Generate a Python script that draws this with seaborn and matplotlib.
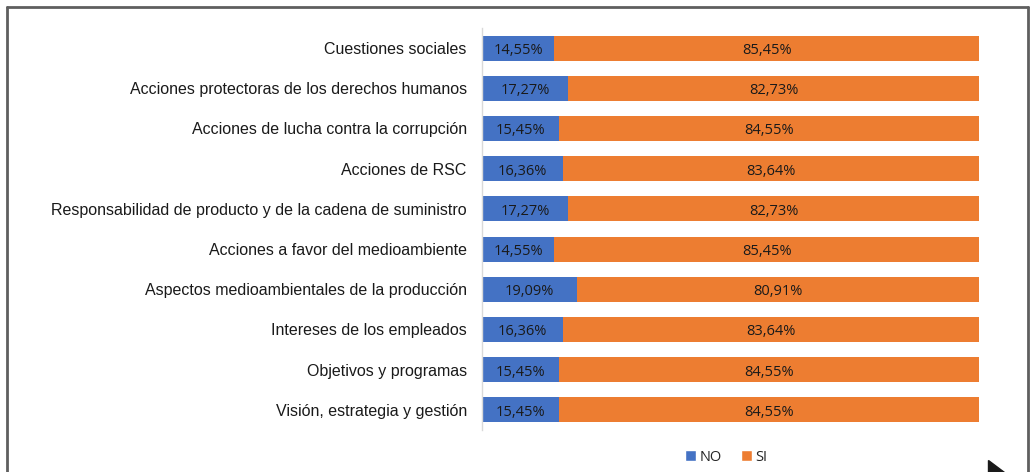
import numpy as np
import pandas as pd
import matplotlib.pyplot as plt
from matplotlib.patches import Patch, Polygon
from matplotlib.lines import Line2D
import seaborn as sns

# Chart values (percent), top to bottom
categories = [
    "Cuestiones sociales",
    "Acciones protectoras de los derechos humanos",
    "Acciones de lucha contra la corrupción",
    "Acciones de RSC",
    "Responsabilidad de producto y de la cadena de suministro",
    "Acciones a favor del medioambiente",
    "Aspectos medioambientales de la producción",
    "Intereses de los empleados",
    "Objetivos y programas",
    "Visión, estrategia y gestión",
]
no_values = [14.55, 17.27, 15.45, 16.36, 17.27, 14.55, 19.09, 16.36, 15.45, 15.45]
si_values = [85.45, 82.73, 84.55, 83.64, 82.73, 85.45, 80.91, 83.64, 84.55, 84.55]
series_names = ["NO", "SI"]

BLUE = "#4472C4"
ORANGE = "#ED7D31"

df = pd.DataFrame({"cat": categories, "NO": no_values, "SI": si_values})
df["total"] = df["NO"] + df["SI"]

sns.set_theme(style="white")
plt.rcParams["font.family"] = ["Liberation Sans", "DejaVu Sans"]

fig = plt.figure(figsize=(10.3, 4.72), dpi=100)
ax = fig.add_axes([0.468, 0.089, 0.4825, 0.8518])

# stacked: full bar in orange, NO part drawn over it in blue
sns.barplot(data=df, y="cat", x="total", color=ORANGE, width=0.62,
            orient="h", ax=ax, saturation=1, linewidth=0)
sns.barplot(data=df, y="cat", x="NO", color=BLUE, width=0.62,
            orient="h", ax=ax, saturation=1, linewidth=0)

def fmt(v):
    return f"{v:.2f}%".replace(".", ",")

lab_font = ["Open Sans", "DejaVu Sans"]
for i, (n, s) in enumerate(zip(df["NO"], df["SI"])):
    ax.text(n / 2, i + 0.06, fmt(n), ha="center", va="center", fontsize=10.5,
            family=lab_font, color="#1a1a1a")
    ax.text(n + s / 2, i + 0.06, fmt(s), ha="center", va="center", fontsize=10.5,
            family=lab_font, color="#1a1a1a")

ax.set_xlim(0, 100)
ax.set_ylim(9.5, -0.5)
ax.set_xlabel("")
ax.set_ylabel("")
ax.set_xticks([])
ax.tick_params(axis="y", length=0, pad=11, labelsize=11.5, colors="#1a1a1a")
for sp in ["top", "right", "bottom"]:
    ax.spines[sp].set_visible(False)
ax.spines["left"].set_color("#D9D9D9")
ax.spines["left"].set_linewidth(1)

# legend
handles = [Patch(facecolor=BLUE, label=series_names[0]),
           Patch(facecolor=ORANGE, label=series_names[1])]
fig.legend(handles=handles, loc="center", bbox_to_anchor=(0.705, 0.031),
           ncol=2, frameon=False, handlelength=0.75,
           handleheight=0.75, handletextpad=0.25, columnspacing=1.3,
           prop={"family": lab_font, "size": 10.5})

# outer frame
frame_kw = dict(color="#5f5f5f", linewidth=2, transform=fig.transFigure)
fig.add_artist(Line2D([7 / 1030, 7 / 1030], [0, 1 - 7 / 472], **frame_kw))
fig.add_artist(Line2D([7 / 1030, 1028 / 1030], [1 - 7 / 472, 1 - 7 / 472], **frame_kw))
fig.add_artist(Line2D([1028 / 1030, 1028 / 1030], [0, 1 - 7 / 472], **frame_kw))

# small arrow mark at bottom right
tri = Polygon([[988 / 1030, 1 - 460 / 472], [988 / 1030, 0], [1004 / 1030, 0]],
              closed=True, transform=fig.transFigure, color="#1a1a1a")
fig.add_artist(tri)

fig.savefig("out.png", dpi=100)
